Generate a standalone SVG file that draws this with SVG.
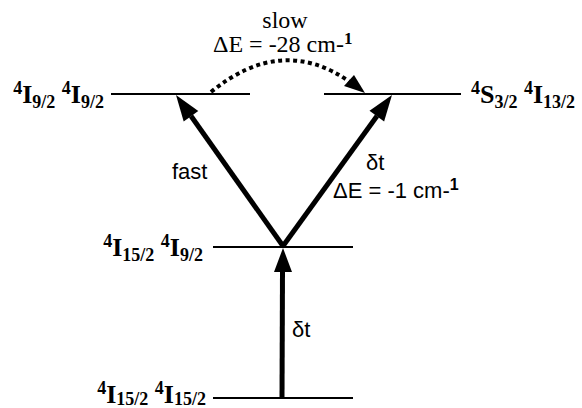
<svg xmlns="http://www.w3.org/2000/svg" width="582" height="408" viewBox="0 0 582 408">
<style>
.lvl{stroke:#000;stroke-width:2.2;fill:none}
.term{font-family:"Liberation Serif","Times New Roman",serif;font-weight:bold;font-size:26px;fill:#000}
.sm{font-size:18px}
.ser{font-family:"Liberation Serif","Times New Roman",serif;font-size:24px;fill:#000}
.sans{font-family:"Liberation Sans",Arial,sans-serif;font-size:22px;fill:#000}
.b{font-weight:bold}
.arr{stroke:#000;stroke-width:5;fill:none}
.head{fill:#000;stroke:none}
.dot{stroke:#000;stroke-width:4;fill:none;stroke-dasharray:4 3.5}
</style>
<rect width="582" height="408" fill="#fff"/>
<g id="level-I92-I92">
<line class="lvl" x1="111" y1="94" x2="250" y2="94"/>
<text class="term" x="104" y="103" text-anchor="end"><tspan class="sm" dy="-9">4</tspan><tspan dy="9">I</tspan><tspan class="sm" dy="5">9/2</tspan><tspan dy="-5"> </tspan><tspan class="sm" dy="-9">4</tspan><tspan dy="9">I</tspan><tspan class="sm" dy="5">9/2</tspan></text>
</g>
<g id="level-S32-I132">
<line class="lvl" x1="324" y1="94" x2="461" y2="94"/>
<text class="term" x="471" y="103"><tspan class="sm" dy="-9">4</tspan><tspan dy="9">S</tspan><tspan class="sm" dy="5">3/2</tspan><tspan dy="-5"> </tspan><tspan class="sm" dy="-9">4</tspan><tspan dy="9">I</tspan><tspan class="sm" dy="5">13/2</tspan></text>
</g>
<g id="level-I152-I92">
<line class="lvl" x1="213" y1="247" x2="353" y2="247"/>
<text class="term" x="203" y="256" text-anchor="end"><tspan class="sm" dy="-9">4</tspan><tspan dy="9">I</tspan><tspan class="sm" dy="5">15/2</tspan><tspan dy="-5"> </tspan><tspan class="sm" dy="-9">4</tspan><tspan dy="9">I</tspan><tspan class="sm" dy="5">9/2</tspan></text>
</g>
<g id="level-I152-I152">
<line class="lvl" x1="213" y1="398" x2="353" y2="398"/>
<text class="term" x="206" y="403" text-anchor="end"><tspan class="sm" dy="-9">4</tspan><tspan dy="9">I</tspan><tspan class="sm" dy="2">15/2</tspan><tspan dy="-2"> </tspan><tspan class="sm" dy="-9">4</tspan><tspan dy="9">I</tspan><tspan class="sm" dy="2">15/2</tspan></text>
</g>
<g id="connectors">
<line class="arr" x1="283" y1="246" x2="191" y2="116"/>
<polygon class="head" points="176,95 198.3,111 183.7,121.4"/>
<line class="arr" x1="283" y1="246" x2="377" y2="116"/>
<polygon class="head" points="392,95 384.1,121.4 369.5,110.8"/>
<line class="arr" x1="282" y1="398" x2="282.5" y2="270"/>
<polygon class="head" points="283,248 292,272 274,272"/>
<path class="dot" d="M211,92 Q282,34 350,82"/>
<polygon class="head" points="365,93 344,86 354,75"/>
</g>
<g id="labels">
<text class="ser" x="285" y="28" text-anchor="middle">slow</text>
<text class="ser" x="213" y="52">ΔE = -28 cm-<tspan class="b" font-size="17" dy="-8">1</tspan></text>
<text class="sans" x="172" y="179">fast</text>
<text class="sans" x="366" y="170">δt</text>
<text class="sans" x="333" y="198">ΔE = -1 cm-<tspan class="b" font-size="16" dy="-8">1</tspan></text>
<text class="sans" x="292" y="337">δt</text>
</g>
</svg>
